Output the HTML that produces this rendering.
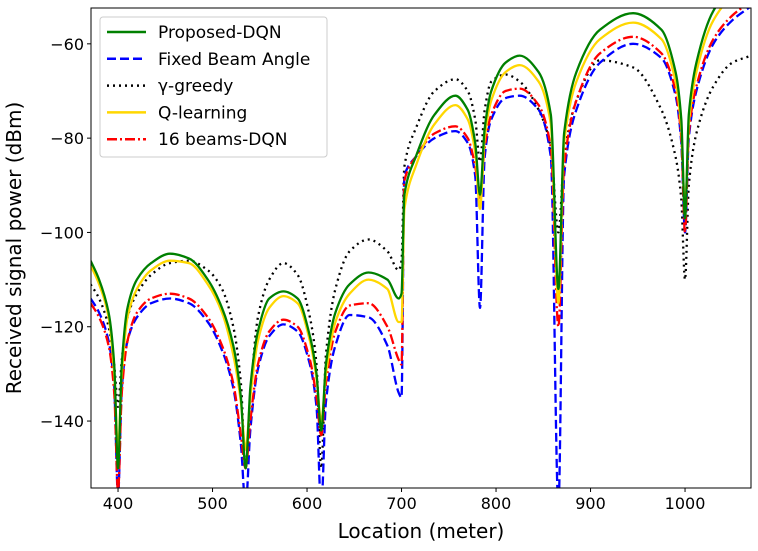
<!DOCTYPE html>
<html><head><meta charset="utf-8"><style>
body{margin:0;background:#fff}
svg text{font-family:"DejaVu Sans","Liberation Sans",sans-serif;fill:#000}
</style></head><body>
<svg id="chart" width="758" height="546" xmlns="http://www.w3.org/2000/svg">
<defs><clipPath id="clip"><rect x="91" y="8" width="660" height="480"/></clipPath></defs>
<rect width="758" height="546" fill="#fff"/>
<g id="series" clip-path="url(#clip)"></g>
<rect x="91" y="8" width="660" height="480" fill="none" stroke="#000" stroke-width="1"/>
<g id="axes"></g>
<text x="421" y="538" font-size="20" text-anchor="middle">Location (meter)</text>
<text transform="translate(21,248) rotate(-90)" font-size="20" text-anchor="middle">Received signal power (dBm)</text>
<g id="legend">
<rect x="100" y="17" width="227" height="140" rx="3" fill="#fff" fill-opacity="0.8" stroke="#ccc"/>
</g>
</svg>
<script>
const locations=[371,380,390,396,400,404,410,420,435,455,475,495,510,522,530,535,540,548,560,575,590,603,610,615,620,630,645,665,685,697,700,703,715,735,757,770,778,783,788,795,810,825,845,858,866,872,885,910,945,975,990,996,1000,1004,1012,1030,1050,1070];
const proposedDQN=[-106,-110,-117,-128,-150,-128,-116,-110,-106.5,-104.5,-105.5,-110,-116,-124,-135,-150,-133,-121,-114,-112.5,-114,-122,-130,-142,-128,-117,-111,-108.5,-110,-114,-113,-92,-84,-75,-71,-74,-81,-92,-78,-70,-64,-62.5,-66,-75,-112,-79,-66,-57,-53.5,-57,-66,-76,-97,-75,-64,-53,-48,-46];
const fixedBeam=[-114,-117,-123,-133,-156,-133,-123,-118,-115,-114,-115,-119,-125,-133,-145,-158,-142,-129,-122,-119.5,-121,-128,-137,-158,-136,-124,-117.5,-118,-124,-134,-135,-88,-84,-80,-78.5,-81,-88,-116,-84,-76,-71.5,-71,-74,-84,-158,-88,-74,-64,-60,-63,-71,-81,-100,-80,-70,-60,-55,-52];
const gammaGreedy=[-111,-114,-120,-128,-137,-127,-118,-113,-109,-106.5,-106,-108,-112,-120,-132,-150,-135,-118,-110,-106.5,-109,-118,-128,-150,-126,-112,-104,-101.5,-104,-108,-106,-86,-78,-70,-67.5,-70,-76,-85,-74,-68,-66.5,-68,-74,-82,-100,-84,-72,-63.5,-65,-74,-84,-93,-110,-90,-79,-69,-64,-62.5];
const qLearning=[-107,-111,-118,-130,-146,-130,-118,-112,-108,-106,-106.5,-111,-117,-126,-136,-146,-135,-123,-116,-113.5,-115,-123,-131,-140,-130,-119,-113,-110,-112,-119,-119,-95,-86,-77,-73,-76,-83,-95,-80,-72,-66,-64.5,-68,-77,-115,-81,-68,-59,-55.5,-59,-68,-78,-95,-77,-66,-55,-50,-48];
const beams16DQN=[-115,-118,-124,-134,-155,-134,-123,-117,-114,-113,-114,-118,-124,-132,-143,-150,-140,-128,-121,-118.5,-120,-127,-135,-143,-132,-121,-115.5,-115,-120,-127,-128,-89,-84,-79,-77.5,-80,-86,-93,-82,-75,-70,-69.5,-73,-82,-120,-86,-72,-62,-58.5,-62,-70,-80,-100,-79,-69,-59,-54,-51];
const xTicks=[400,500,600,700,800,900,1000];
const yTicks=[-60,-80,-100,-120,-140];
const seriesNames=["Proposed-DQN","Fixed Beam Angle","γ-greedy","Q-learning","16 beams-DQN"];

const NS="http://www.w3.org/2000/svg";
const X0=371.4,X1=1069.8,Y0=-154.2,Y1=-52.4,L=91,R=751,T=8,B=488;
const xs=v=>L+(v-X0)/(X1-X0)*(R-L);
const ys=v=>B-(v-Y0)/(Y1-Y0)*(B-T);
function mk(tag,attrs,parent){const e=document.createElementNS(NS,tag);for(const k in attrs)e.setAttribute(k,attrs[k]);parent.appendChild(e);return e;}
function monoPath(px,py){
  const n=px.length,d=[],m=[];
  for(let i=0;i<n-1;i++)d.push((py[i+1]-py[i])/(px[i+1]-px[i]));
  m[0]=d[0];m[n-1]=d[n-2];
  for(let i=1;i<n-1;i++)m[i]=(d[i-1]*d[i]<=0)?0:(3*(d[i-1]+d[i]))/((2*d[i]+d[i-1])/d[i-1]*0+ (1/d[i-1]+1/d[i])*1.5*(d[i-1]+d[i])/ (d[i-1]+d[i]) *2 /2* (d[i-1]+d[i]) / (d[i-1]+d[i]) *1 ) ;
  // harmonic mean slope
  for(let i=1;i<n-1;i++)m[i]=(d[i-1]*d[i]<=0)?0:2/(1/d[i-1]+1/d[i]);
  let s='M'+px[0].toFixed(1)+','+py[0].toFixed(1);
  for(let i=0;i<n-1;i++){
    const h=px[i+1]-px[i];
    s+='C'+(px[i]+h/3).toFixed(1)+','+(py[i]+m[i]*h/3).toFixed(1)+' '+(px[i+1]-h/3).toFixed(1)+','+(py[i+1]-m[i+1]*h/3).toFixed(1)+' '+px[i+1].toFixed(1)+','+py[i+1].toFixed(1);
  }
  return s;
}
const axes=document.getElementById('axes');
xTicks.forEach(t=>{
  const l=mk('line',{x1:xs(t),x2:xs(t),y1:B,y2:B+4,stroke:'#000'},axes);
  
  
  const tx=mk('text',{x:xs(t),y:B+21,'font-size':16,'text-anchor':'middle'},axes);
  tx.textContent=t;
  
  
});
yTicks.forEach(t=>{
  const l=mk('line',{x1:L-4,x2:L,y1:ys(t),y2:ys(t),stroke:'#000'},axes);
  
  
  const tx=mk('text',{x:L-7,y:ys(t)+6,'font-size':16,'text-anchor':'end'},axes);
  tx.textContent='\u2212'+Math.abs(t);
  
  
});
const styles=[
 {data:proposedDQN,color:'#008000',dash:'',name:'proposed-dqn-line'},
 {data:fixedBeam,color:'#0000ff',dash:'9,4',name:'fixed-beam-line'},
 {data:gammaGreedy,color:'#000',dash:'2,4',name:'gamma-greedy-line'},
 {data:qLearning,color:'#ffd700',dash:'',name:'q-learning-line'},
 {data:beams16DQN,color:'#ff0000',dash:'10,3,2,3',name:'16-beams-dqn-line'}
];
const sg=document.getElementById('series');
const drawOrder=[2,1,4,3,0];
drawOrder.forEach(i=>{
  const s=styles[i];
  const d=monoPath(locations.map(xs),s.data.map(ys));
  const p=mk('path',{d:d,fill:'none',stroke:s.color,'stroke-width':2.3,'stroke-dasharray':s.dash,'stroke-linejoin':'round'},sg);
  
  
});
const lg=document.getElementById('legend');
styles.forEach((s,i)=>{
  const y=32+i*26.8;
  const l=mk('line',{x1:107,x2:146,y1:y,y2:y,stroke:s.color,'stroke-width':2.5,'stroke-dasharray':s.dash},lg);
  
  
  const t=mk('text',{x:158,y:y+6,'font-size':17},lg);
  t.textContent=seriesNames[i];
  
  
});
</script>
</body></html>
